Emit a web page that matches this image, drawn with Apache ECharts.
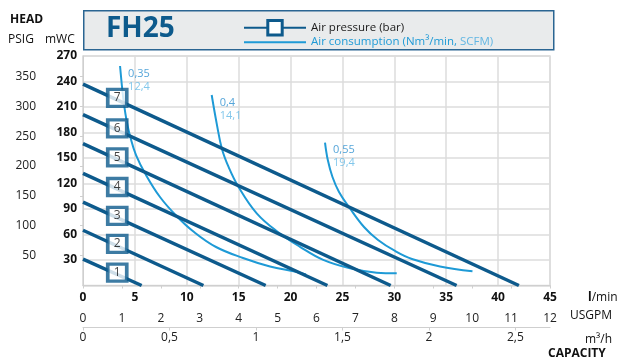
<!DOCTYPE html>
<html><head><meta charset="utf-8">
<script src="https://cdn.jsdelivr.net/npm/echarts@6/dist/echarts.min.js"></script>
<style>html,body{margin:0;padding:0;background:#fff}#c{width:617px;height:360px}</style>
</head><body><div id="c"></div>
<script>
// ---- data ----
const pressureBar = ['1', '2', '3', '4', '5', '6', '7'];
const shutoffHead = [31, 65, 98, 132, 167, 201, 237];          // mWC at zero flow
const maxFlow = [5.65, 11.6, 17.6, 23.55, 29.65, 36.0, 42.0];   // l/min at zero head
const boxFlow = 3.3;                                            // where the bar boxes sit (l/min)

const air1Flow = [3.57, 3.79, 3.95, 4.19, 4.53, 5.11, 6.07, 7.42, 9.01, 10.7, 12.82, 15.42, 18.02, 20.52, 21.49];
const air1Head = [258.2, 230, 213.5, 194.7, 175.9, 153.5, 130, 104.1, 81.8, 62.9, 45.3, 32.4, 22.4, 16.2, 12.9];
const air2Flow = [12.4, 12.88, 13.39, 14.07, 14.96, 16.74, 18.84, 20.91, 23.15, 25.73, 28.3, 30.23];
const air2Head = [224.1, 190.8, 160.6, 138.2, 116.5, 84.9, 62.4, 45.5, 30.1, 20.2, 15.1, 14.4];
const air3Flow = [23.32, 23.59, 24.04, 24.67, 25.63, 27.08, 28.43, 30.07, 31.7, 34.4, 37.53];
const air3Head = [168.2, 147.6, 127.6, 110, 92.4, 68.8, 53.5, 40.6, 31.2, 22.4, 16.7];
const airNm3 = ['0,35', '0,4', '0,55'];
const airScfm = ['12,4', '14,1', '19,4'];

const mwcTicks = { min: 0, max: 270, interval: 30 };
const psigTicks = { min: 0, max: 270 / 0.70307, interval: 50 };
const lminTicks = { min: 0, max: 45, interval: 5 };
const usgpmTicks = { min: 0, max: 12, interval: 1 };
const m3hTicks = { min: 0, max: 2.7, interval: 0.5 };

// ---- style ----
const DARK = '#0d5a8c';
const LIGHT = '#1e9ad6';
const GRID = '#dcdcdc';
const AXIS = '#cfcfcf';
const FONT = '"Open Sans", sans-serif';
const PNAME = 'Air pressure (bar)';
const ANAME = 'Air consumption';

const series = [];
pressureBar.forEach((b, i) => {
  series.push({
    type: 'line', name: PNAME, silent: true, z: 3,
    data: [[0, shutoffHead[i]], [maxFlow[i], 0]],
    symbol: 'rect', showSymbol: false,
    lineStyle: { color: DARK, width: 3.5 }, itemStyle: { color: DARK }
  });
});
const airF = [air1Flow, air2Flow, air3Flow];
const airH = [air1Head, air2Head, air3Head];
airF.forEach((f, k) => {
  series.push({
    type: 'line', name: ANAME, silent: true, z: 2, smooth: 0.4,
    data: f.map((x, j) => [x, airH[k][j]]),
    symbol: 'circle', showSymbol: false,
    lineStyle: { color: LIGHT, width: 2 }, itemStyle: { color: LIGHT }
  });
});
// curve labels
series.push({
  type: 'scatter', name: 'airLabels', silent: true, z: 5,
  symbolSize: 0.1, itemStyle: { color: 'transparent' },
  data: airF.map((f, k) => ({ value: [f[0], airH[k][0]], name: k })),
  label: {
    show: true, position: 'right', distance: 8, offset: [0, 14],
    formatter: p => '{a|' + airNm3[p.dataIndex] + '}\n{b|' + airScfm[p.dataIndex] + '}',
    rich: {
      a: { color: '#2b8fcf', fontSize: 11, fontFamily: FONT, lineHeight: 13 },
      b: { color: '#63b9e6', fontSize: 11, fontFamily: FONT, lineHeight: 13 }
    }
  }
});
// bar boxes
series.push({
  type: 'scatter', name: 'boxes', silent: true, z: 6,
  symbol: 'rect', symbolSize: [19, 17], symbolOffset: [0, -2],
  data: pressureBar.map((b, i) => [boxFlow, shutoffHead[i] * (1 - boxFlow / maxFlow[i])]),
  itemStyle: { color: '#fff', borderColor: DARK, borderWidth: 3.5 },
  label: { show: true, position: 'inside', formatter: p => pressureBar[p.dataIndex], color: '#111', fontSize: 12, fontFamily: FONT }
});

const chart = echarts.init(document.getElementById('c'), null, { renderer: 'canvas' });
chart.setOption({
  animation: false,
  textStyle: { fontFamily: FONT },
  grid: { left: 83, right: 67, top: 56, bottom: 74.5, show: true, borderColor: GRID, borderWidth: 1.5 },
  legend: [
    {
      data: [{ name: PNAME, itemStyle: { color: '#fff', borderColor: DARK, borderWidth: 3 } }],
      left: 238, top: 14, itemWidth: 62, itemHeight: 18, selectedMode: false,
      textStyle: { fontSize: 11.5, color: '#1a1a1a', fontFamily: FONT }
    },
    {
      data: [{ name: ANAME, itemStyle: { opacity: 0 } }],
      left: 238, top: 30, itemWidth: 62, itemHeight: 18, selectedMode: false,
      formatter: () => '{a|Air consumption (Nm³/min, }{b|SCFM)}',
      textStyle: {
        fontSize: 11.5, fontFamily: FONT,
        rich: { a: { color: LIGHT, fontSize: 11.5, fontFamily: FONT }, b: { color: '#62b6e3', fontSize: 11.5, fontFamily: FONT } }
      }
    }
  ],
  xAxis: [
    Object.assign({
      type: 'value', position: 'bottom',
      axisLine: { show: false }, axisTick: { show: false },
      axisLabel: { fontWeight: 'bold', fontSize: 12, color: '#111', margin: 6, fontFamily: FONT },
      splitLine: { show: true, lineStyle: { color: GRID, width: 1.5 } }
    }, lminTicks),
    Object.assign({
      type: 'value', position: 'bottom', offset: 23,
      axisLine: { show: true, lineStyle: { color: AXIS } },
      axisTick: { show: true, length: 3, lineStyle: { color: AXIS } },
      axisLabel: { fontSize: 12, color: '#222', margin: 4, fontFamily: FONT },
      splitLine: { show: false }
    }, usgpmTicks),
    Object.assign({
      type: 'value', position: 'bottom', offset: 42,
      axisLine: { show: true, lineStyle: { color: AXIS } },
      axisTick: { show: true, length: 3, lineStyle: { color: AXIS } },
      axisLabel: { fontSize: 12, color: '#222', margin: 4, showMaxLabel: false, fontFamily: FONT,
        formatter: v => String(v).replace('.', ',') },
      splitLine: { show: false }
    }, m3hTicks)
  ],
  yAxis: [
    Object.assign({
      type: 'value', position: 'left',
      axisLine: { show: false }, axisTick: { show: false },
      axisLabel: { fontWeight: 'bold', fontSize: 12, color: '#111', margin: 6, showMinLabel: false, fontFamily: FONT },
      splitLine: { show: true, lineStyle: { color: GRID, width: 1.5 } }
    }, mwcTicks),
    Object.assign({
      type: 'value', position: 'left', offset: 39,
      axisLine: { show: true, lineStyle: { color: AXIS } },
      axisTick: { show: true, length: 3, lineStyle: { color: AXIS } },
      axisLabel: { fontSize: 12, color: '#222', margin: 8, showMinLabel: false, showMaxLabel: false, fontFamily: FONT },
      splitLine: { show: false }
    }, psigTicks)
  ],
  graphic: [
    { type: 'rect', left: 83, top: 10, z: -1, shape: { width: 470, height: 39 },
      style: { fill: '#e9ebec', stroke: '#2a6592', lineWidth: 1.5 } },
    { type: 'text', left: 106, top: 15, z: 1, style: { text: 'FH25', fill: DARK, font: 'bold 28px "Open Sans", sans-serif' } },
    { type: 'text', left: 10, top: 14, style: { text: 'HEAD', fill: '#111', font: 'bold 12px "Open Sans", sans-serif' } },
    { type: 'text', left: 8, top: 34, style: { text: 'PSIG', fill: '#111', font: '12px "Open Sans", sans-serif' } },
    { type: 'text', left: 45, top: 34, style: { text: 'mWC', fill: '#111', font: '12px "Open Sans", sans-serif' } },
    { type: 'text', left: 588, top: 292, style: { text: '{b|l}/min', fill: '#111', font: '12px "Open Sans", sans-serif',
        rich: { b: { fontWeight: 'bold', fontSize: 12, fontFamily: FONT } } } },
    { type: 'text', left: 570, top: 310, style: { text: 'USGPM', fill: '#111', font: '12px "Open Sans", sans-serif' } },
    { type: 'text', right: 5, top: 334, style: { text: 'm³/h', fill: '#111', font: '12px "Open Sans", sans-serif' } },
    { type: 'text', left: 548, top: 348, style: { text: 'CAPACITY', fill: '#111', font: 'bold 12px "Open Sans", sans-serif' } }
  ],
  series: series
});
</script>
</body></html>
